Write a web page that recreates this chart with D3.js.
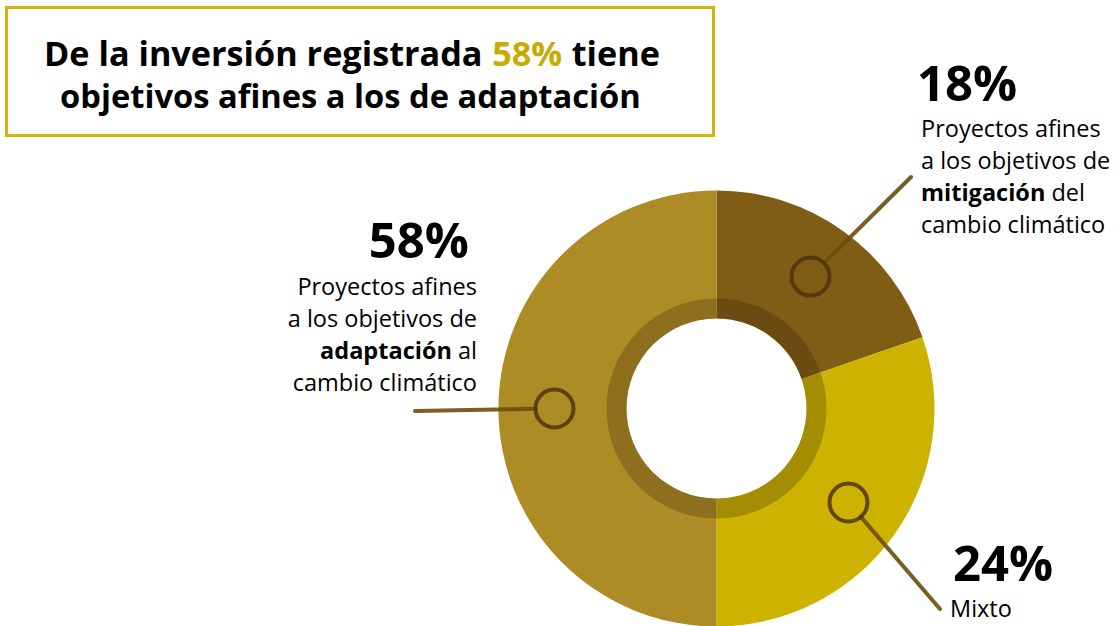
<!DOCTYPE html>
<html>
<head>
<meta charset="utf-8">
<script src="https://cdn.jsdelivr.net/npm/d3@7"></script>
<style>
  html, body { margin: 0; padding: 0; background: #fff; }
  svg { display: block; }
  text { font-family: "Open Sans", "Noto Sans", sans-serif; }
</style>
</head>
<body>
<svg id="chart" width="1120" height="626"></svg>
<script>
// ---- data ----
const categories = ["mitigación", "mixto", "adaptación"];
const labelValues = [18, 24, 58];          // percentages printed in the labels
const drawnShares = [19.7, 30.3, 50];      // slice sweep as drawn in the picture
const sliceColors = ["#7F5D14", "#CDB300", "#AE8C25"];
const titleLine1 = ["De la inversión registrada", "58%", "tiene"];
const titleLine2 = "objetivos afines a los de adaptación";
const mitigationLines = [["Proyectos afines"], ["a los objetivos de"], ["mitigación", " del"], ["cambio climático"]];
const adaptationLines = [["Proyectos afines"], ["a los objetivos de"], ["adaptación", " al"], ["cambio climático"]];
const mixtoLines = [["Mixto"]];

const svg = d3.select("#chart");

// ---- title box ----
svg.append("rect")
  .attr("x", 6.5).attr("y", 7.5).attr("width", 707).attr("height", 128)
  .attr("fill", "#fff").attr("stroke", "#D2B40C").attr("stroke-width", 3);

const titleFont = "Roboto, 'Open Sans', sans-serif";
// title line 1: three pieces side by side, font size fitted to the width
(function () {
  const fs0 = 36, target = 616, left = 44, y = 66;
  const pieces = titleLine1.map((s, i) => svg.append("text")
    .attr("y", y).attr("font-family", titleFont).attr("font-size", fs0).attr("font-weight", 700)
    .attr("fill", i === 1 ? "#C9AA00" : "#000").text(s));
  const widths = pieces.map(p => p.node().getComputedTextLength());
  const space = fs0 * 0.28;
  const total = d3.sum(widths) + space * (pieces.length - 1);
  const k = target / total;
  let x = left;
  pieces.forEach((p, i) => {
    p.attr("x", x).attr("font-size", fs0 * k);
    x += (widths[i] + space) * k;
  });
})();
(function () {
  const fs0 = 36, target = 581;
  const t = svg.append("text")
    .attr("x", 60).attr("y", 108).attr("font-family", titleFont)
    .attr("font-size", fs0).attr("font-weight", 700).attr("fill", "#000")
    .text(titleLine2);
  const w = t.node().getComputedTextLength();
  t.attr("font-size", fs0 * target / w);
})();

// ---- donut ----
const cx = 716.5, cy = 408.5;
const R = 218, rBand = 110, rHole = 90;
const g = svg.append("g").attr("transform", `translate(${cx},${cy})`);

const pie = d3.pie().sort(null).value(d => d);
const arcs = pie(drawnShares);
const arc = d3.arc().innerRadius(rHole).outerRadius(R);

g.selectAll("path.slice").data(arcs).join("path")
  .attr("class", "slice")
  .attr("d", arc)
  .attr("fill", (d, i) => sliceColors[i]);

// inner darker band
g.append("path")
  .attr("d", d3.arc().innerRadius(rHole).outerRadius(rBand).startAngle(0).endAngle(2 * Math.PI)())
  .attr("fill", "rgb(45,25,10)").attr("opacity", 0.25);

// ---- callouts ----
const midR = 162;
const midArc = d3.arc().innerRadius(midR).outerRadius(midR);
const anchors = [[911, 177], [940, 609], [415, 411]]; // leader line ends (mitigación, mixto, adaptación)
const circleR = 19;

arcs.forEach((d, i) => {
  const [mx, my] = midArc.centroid(d);
  const px = cx + mx, py = cy + my;
  const [ax, ay] = anchors[i];
  const dx = px - ax, dy = py - ay, len = Math.hypot(dx, dy);
  svg.append("line")
    .attr("x1", ax).attr("y1", ay)
    .attr("x2", px - dx / len * circleR).attr("y2", py - dy / len * circleR)
    .attr("stroke", "rgb(108,76,10)").attr("stroke-opacity", 0.9)
    .attr("stroke-width", 4).attr("stroke-linecap", "round");
  svg.append("circle")
    .attr("cx", px).attr("cy", py).attr("r", circleR)
    .attr("fill", "none").attr("stroke", "rgb(80,50,15)").attr("stroke-opacity", 0.85)
    .attr("stroke-width", 4);
});

// ---- labels ----
function block(x, yPct, yLines, anchor, pct, lines) {
  svg.append("text").attr("x", x.pct).attr("y", yPct)
    .attr("text-anchor", anchor).attr("font-size", 49).attr("font-weight", 700)
    .attr("fill", "#000").text(pct + "%");
  lines.forEach((parts, k) => {
    const t = svg.append("text").attr("x", x.lines).attr("y", yLines[k])
      .attr("text-anchor", anchor).attr("font-size", 23.5).attr("fill", "#000");
    parts.forEach((p, j) => {
      t.append("tspan").text(p).attr("font-weight", parts.length > 1 && j === 0 ? 700 : 400);
    });
  });
}
block({pct: 917, lines: 921}, 101, [137, 169, 201, 233], "start", labelValues[0], mitigationLines);
block({pct: 469, lines: 477}, 258, [295, 327, 359, 391], "end", labelValues[2], adaptationLines);
block({pct: 953, lines: 950}, 581, [617], "start", labelValues[1], mixtoLines);
</script>
</body>
</html>
